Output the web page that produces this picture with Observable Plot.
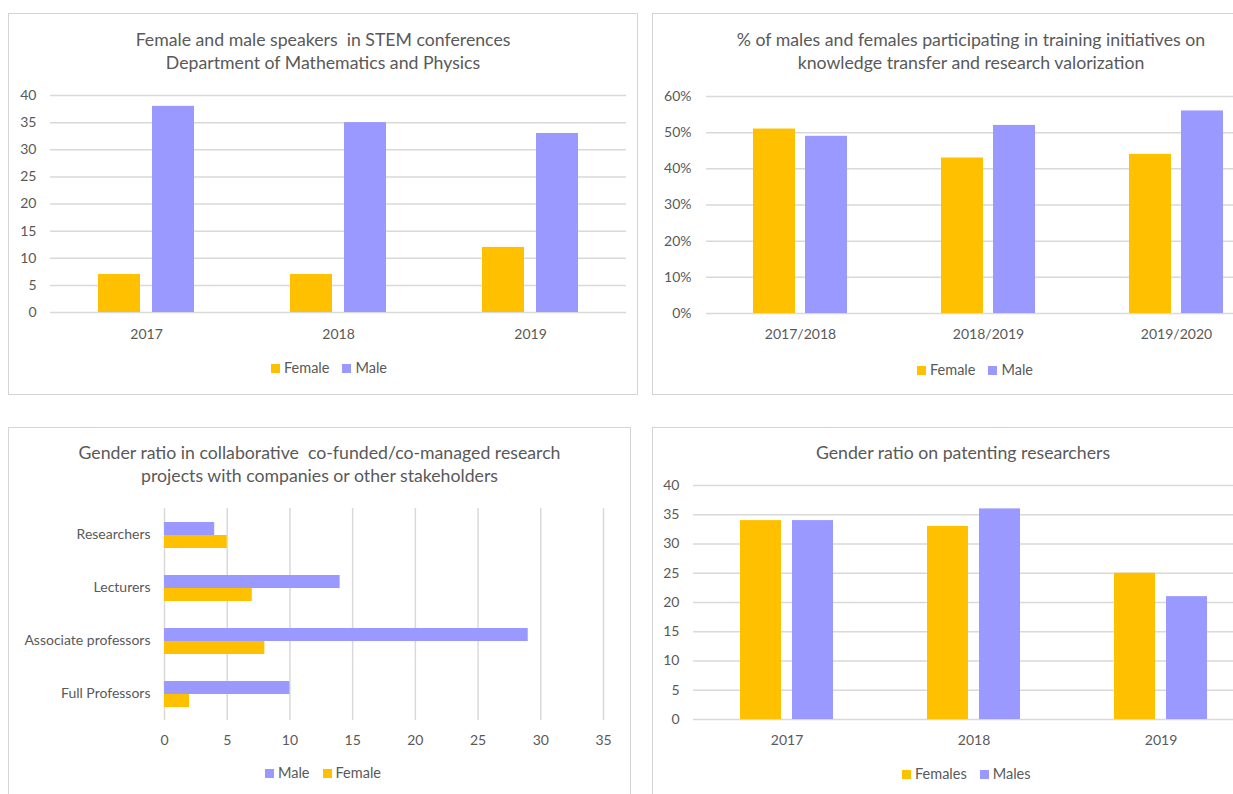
<!DOCTYPE html>
<html>
<head>
<meta charset="utf-8">
<script src="https://cdn.jsdelivr.net/npm/d3@7"></script>
<script src="https://cdn.jsdelivr.net/npm/@observablehq/plot@0.6"></script>
<style>
  html, body { margin: 0; padding: 0; width: 1233px; height: 794px; overflow: hidden; background: #fff; }
  #page { position: relative; width: 1233px; height: 794px; overflow: hidden; font-family: Lato, "Open Sans", sans-serif; color: #595959; }
  .box { position: absolute; border: 1px solid #d4d4d4; box-sizing: border-box; }
  .title { position: absolute; text-align: center; font-size: 17.7px; line-height: 23px; color: #595959; white-space: pre; }
  .legend { position: absolute; display: flex; align-items: center; font-size: 14.5px; line-height: 18px; color: #595959; white-space: nowrap; }
  .legend .sw { width: 9px; height: 9px; margin-right: 4px; }
  .legend .item { display: flex; align-items: center; margin-right: 13px; }
  .legend .item:last-child { margin-right: 0; }
  .plot { position: absolute; }
  .plot svg { max-width: none !important; }
</style>
</head>
<body>
<div id="page"></div>
<script>
// ---------- data ----------
const FEMALE_COLOR = "#FFC000";
const MALE_COLOR = "#9999FF";

// Chart 1: Female and male speakers in STEM conferences
const years1 = ["2017", "2018", "2019"];
const female1 = [7, 7, 12];
const male1 = [38, 35, 33];

// Chart 2: % of males and females in training initiatives
const years2 = ["2017/2018", "2018/2019", "2019/2020"];
const female2 = [51, 43, 44];
const male2 = [49, 52, 56];

// Chart 3: Gender ratio in collaborative research projects
const roles3 = ["Researchers", "Lecturers", "Associate professors", "Full Professors"];
const male3 = [4, 14, 29, 10];
const female3 = [5, 7, 8, 2];

// Chart 4: Gender ratio on patenting researchers
const years4 = ["2017", "2018", "2019"];
const females4 = [34, 33, 25];
const males4 = [34, 36, 21];

// ---------- helpers ----------
const page = document.getElementById("page");
const FONT = "Lato, 'Open Sans', sans-serif";
const GRID = "#d9d9d9";

function el(cls, css) {
  const d = document.createElement("div");
  d.className = cls;
  Object.assign(d.style, css);
  page.appendChild(d);
  return d;
}
function box(left, top, width, height) {
  el("box", {left: left + "px", top: top + "px", width: width + "px", height: height + "px"});
}
function title(lines, left, width, top) {
  const d = el("title", {left: left + "px", width: width + "px", top: top + "px"});
  d.textContent = lines.join("\n");
}
function legend(items, left, top) {
  const d = el("legend", {left: left + "px", top: top + "px"});
  for (const it of items) {
    const i = document.createElement("div");
    i.className = "item";
    const s = document.createElement("div");
    s.className = "sw";
    s.style.background = it.color;
    const t = document.createElement("span");
    t.textContent = it.name;
    i.appendChild(s); i.appendChild(t);
    d.appendChild(i);
  }
}
function place(svg, left, top) {
  const w = el("plot", {left: left + "px", top: top + "px", width: svg.getAttribute("width") + "px"});
  w.appendChild(svg);
}
function longTable(cats, series) {
  return cats.flatMap((c, i) => series.map(s => ({cat: c, name: s.name, value: s.values[i]})));
}

function columnChart({cats, series, yMax, yStep, yFormat, width, height, ml, mr, mt, mb, padIn, padOut, fxPad, yPad}) {
  const table = longTable(cats, series);
  const ticks = d3.range(0, yMax + yStep / 2, yStep);
  return Plot.plot({
    width, height,
    marginLeft: ml, marginRight: mr, marginTop: mt, marginBottom: mb,
    style: {fontFamily: FONT, fontSize: "14px", color: "#595959", background: "transparent"},
    fx: {domain: cats, padding: 0, tickSize: 0, tickPadding: fxPad, label: null, axis: "bottom"},
    x: {domain: series.map(s => s.name), axis: null, paddingInner: padIn, paddingOuter: padOut},
    y: {domain: [0, yMax], ticks, tickFormat: yFormat, tickSize: 0, tickPadding: yPad, label: null},
    color: {domain: series.map(s => s.name), range: series.map(s => s.color)},
    marks: [
      Plot.gridY(ticks, {stroke: GRID, strokeOpacity: 1, strokeWidth: 1.5}),
      Plot.barY(table, {fx: "cat", x: "name", y: "value", fill: "name"})
    ]
  });
}

// ---------- Chart 1 ----------
box(8, 13, 630, 382);
title(["Female and male speakers  in STEM conferences", "Department of Mathematics and Physics"], 8, 630, 28);
place(columnChart({
  cats: years1,
  series: [{name: "Female", values: female1, color: FEMALE_COLOR}, {name: "Male", values: male1, color: MALE_COLOR}],
  yMax: 40, yStep: 5, yFormat: d => String(d),
  width: 629, height: 270, ml: 42, mr: 11, mt: 15, mb: 38,
  padIn: 0.218, padOut: 0.855, fxPad: 17, yPad: 14
}), 8, 80);
legend([{name: "Female", color: FEMALE_COLOR}, {name: "Male", color: MALE_COLOR}], 271, 359);

// ---------- Chart 2 ----------
box(652, 13, 640, 382);
title(["% of males and females participating in training initiatives on", "knowledge transfer and research valorization"], 652, 638, 28);
place(columnChart({
  cats: years2,
  series: [{name: "Female", values: female2, color: FEMALE_COLOR}, {name: "Male", values: male2, color: MALE_COLOR}],
  yMax: 60, yStep: 10, yFormat: d => d + "%",
  width: 628, height: 270, ml: 54, mr: 10, mt: 16, mb: 37,
  padIn: 0.19, padOut: 0.87, fxPad: 16, yPad: 15
}), 652, 80);
legend([{name: "Female", color: FEMALE_COLOR}, {name: "Male", color: MALE_COLOR}], 917, 361);

// ---------- Chart 3 ----------
box(8, 427, 623, 400);
title(["Gender ratio in collaborative  co-funded/co-managed research", "projects with companies or other stakeholders"], 8, 623, 441);
{
  const series = [{name: "Male", values: male3, color: MALE_COLOR}, {name: "Female", values: female3, color: FEMALE_COLOR}];
  const table = longTable(roles3, series);
  const ticks = d3.range(0, 36, 5);
  const svg = Plot.plot({
    width: 622, height: 255,
    marginLeft: 156, marginRight: 27, marginTop: 7, marginBottom: 35,
    style: {fontFamily: FONT, fontSize: "14px", color: "#595959", background: "transparent"},
    fy: {domain: roles3, padding: 0, tickSize: 0, tickPadding: 14, label: null, axis: "left"},
    y: {domain: series.map(s => s.name), axis: null, paddingInner: 0, paddingOuter: 0.97},
    x: {domain: [0, 35], ticks, tickSize: 0, tickPadding: 15, label: null},
    color: {domain: series.map(s => s.name), range: series.map(s => s.color)},
    marks: [
      Plot.gridX(ticks, {stroke: GRID, strokeOpacity: 1, strokeWidth: 1.5}),
      Plot.barX(table, {fy: "cat", y: "name", x: "value", fill: "name"})
    ]
  });
  place(svg, 8, 500);
}
legend([{name: "Male", color: MALE_COLOR}, {name: "Female", color: FEMALE_COLOR}], 265, 764);

// ---------- Chart 4 ----------
box(652, 427, 622, 400);
title(["Gender ratio on patenting researchers"], 652, 622, 441);
place(columnChart({
  cats: years4,
  series: [{name: "Females", values: females4, color: FEMALE_COLOR}, {name: "Males", values: males4, color: MALE_COLOR}],
  yMax: 40, yStep: 5, yFormat: d => String(d),
  width: 612, height: 290, ml: 41, mr: 10, mt: 15, mb: 41,
  padIn: 0.21, padOut: 0.87, fxPad: 16, yPad: 14
}), 652, 470);
legend([{name: "Females", color: FEMALE_COLOR}, {name: "Males", color: MALE_COLOR}], 902, 765);
</script>
</body>
</html>
